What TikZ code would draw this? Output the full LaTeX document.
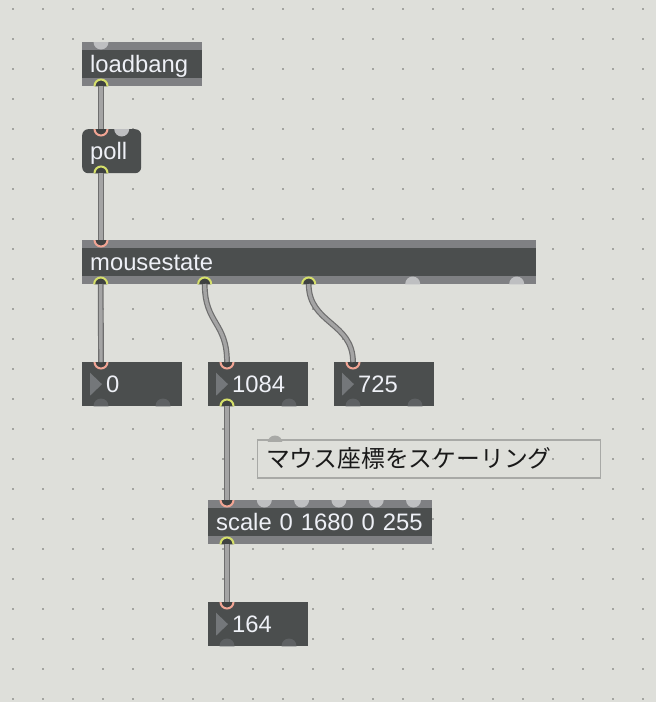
\documentclass[tikz,border=0pt]{standalone}
\usepackage{fontspec}
\newfontfamily\maxfont{Liberation Sans}
\newfontfamily\cjkfont{Noto Sans CJK JP}

\definecolor{patchbg}{HTML}{DEDFDA}
\definecolor{griddot}{HTML}{A3A4A0}
\definecolor{objbody}{HTML}{4B4E4E}
\definecolor{objband}{HTML}{7F8083}
\definecolor{objtext}{HTML}{EEF0F6}
\definecolor{portgray}{HTML}{BEBFC1}
\definecolor{portdark}{HTML}{5E6163}
\definecolor{portcore}{HTML}{3E4141}
\definecolor{inring}{HTML}{F2A594}
\definecolor{outring}{HTML}{D6E06A}
\definecolor{cableedge}{HTML}{6E6E6E}
\definecolor{cablecore}{HTML}{A4A4A4}
\definecolor{trigray}{HTML}{74777A}
\definecolor{cmtborder}{HTML}{A8A9A6}

\tikzset{
  obj/.style={rectangle, fill=objbody, text=objtext, anchor=north west,
    font=\maxfont\fontsize{23.8pt}{28pt}\selectfont,
    inner xsep=8pt, inner ysep=0pt, minimum height=44pt,
    text width=#1, align=left, text height=22.4pt, text depth=5pt},
  numbox/.style={obj=84pt, execute at begin node=\hspace*{16pt}},
  band/.style={fill=objband},
  port/.style={circle, inner sep=0pt, minimum size=15pt, fill=portgray},
  nport/.style={port, fill=portdark},
  inport/.style={circle, inner sep=0pt, minimum size=13pt, fill=portcore,
    draw=inring, line width=2pt},
  outport/.style={inport, draw=outring},
  cable/.style={draw=cableedge, line width=1.2pt, double=cablecore,
    double distance=3.4pt},
  cmt/.style={rectangle, draw=cmtborder, line width=1.6pt, anchor=north west,
    font=\cjkfont\fontsize{23.8pt}{28pt}\selectfont, text=black!90,
    inner xsep=8.5pt, inner ysep=0pt, minimum height=38pt,
    text width=326pt, align=left, text height=22.4pt, text depth=5pt}
}

\begin{document}
\begin{tikzpicture}[x=1pt, y=-1pt]

  % 背景与网格点
  \useasboundingbox (0,0) rectangle (656,702);
  \fill[patchbg] (0,0) rectangle (656,702);
  \foreach \i in {0,...,21}
    \foreach \j in {0,...,23}
      \fill[griddot] (11.7+30*\i, 7.7+30*\j) rectangle ++(2,2);

  % 对象
  \node[obj=104pt] (lb) at (82,42) {loadbang};
  \node[obj=43pt, rounded corners=6pt] (po) at (82,129) {poll};
  \node[obj=438pt] (ms) at (82,240) {mousestate};
  \node[numbox] (n0) at (82,362) {0};
  \node[numbox] (n1) at (208,362) {1084};
  \node[numbox] (n2) at (334,362) {725};
  \node[obj=208pt] (sc) at (208,500) {scale 0 1680 0 255};
  \node[numbox] (n3) at (208,602) {164};

  % 数字框左侧的三角形
  \foreach \n in {n0,n1,n2,n3}
    \fill[trigray] (\n.west) ++(8,-11.5) -- ++(12,11.5) -- ++(-12,11.5) -- cycle;

  % 上下边条与端口(裁剪到对象内部)
  \begin{scope}
    \clip (lb.north west) rectangle (lb.south east)
          (po.north west) rectangle (po.south east)
          (ms.north west) rectangle (ms.south east)
          (n0.north west) rectangle (n0.south east)
          (n1.north west) rectangle (n1.south east)
          (n2.north west) rectangle (n2.south east)
          (sc.north west) rectangle (sc.south east)
          (n3.north west) rectangle (n3.south east);

    \fill[band] (lb.north west) rectangle ++(120,8);
    \fill[band] (lb.south west) rectangle ++(120,-8);
    \fill[band] (ms.north west) rectangle ++(454,8);
    \fill[band] (ms.south west) rectangle ++(454,-8);
    \fill[band] (sc.north west) rectangle ++(224,8);
    \fill[band] (sc.south west) rectangle ++(224,-8);

    \node[port] (lb-in) at (101,42) {};
    \node[outport] (lb-out) at (101,86) {};

    \node[inport] (po-in1) at (101,129) {};
    \node[port] (po-in2) at (121.7,129) {};
    \node[outport] (po-out) at (101,173) {};

    \node[inport] (ms-in) at (101,240) {};
    \node[outport] (ms-out1) at (100.7,284) {};
    \node[outport] (ms-out2) at (204.7,284) {};
    \node[outport] (ms-out3) at (308.7,284) {};
    \node[port] (ms-out4) at (412.7,284) {};
    \node[port] (ms-out5) at (516.7,284) {};

    \node[inport] (n0-in) at (101,362) {};
    \node[nport] (n0-out1) at (101,406) {};
    \node[nport] (n0-out2) at (163,406) {};
    \node[inport] (n1-in) at (227,362) {};
    \node[outport] (n1-out1) at (227,406) {};
    \node[nport] (n1-out2) at (289,406) {};
    \node[inport] (n2-in) at (353,362) {};
    \node[nport] (n2-out1) at (353,406) {};
    \node[nport] (n2-out2) at (415,406) {};

    \node[inport] (sc-in0) at (227,500) {};
    \foreach \k in {1,...,5}
      \node[port] (sc-in\k) at (227+37.3*\k,500) {};
    \node[outport] (sc-out) at (227,544) {};

    \node[inport] (n3-in) at (227,602) {};
    \node[nport] (n3-out1) at (227,646) {};
    \node[nport] (n3-out2) at (289,646) {};
  \end{scope}

  % 连线
  \draw[cable] (lb-out.center) -- (po-in1.center);
  \draw[cable] (po-out.center) -- (ms-in.center);
  \draw[cable] (ms-out1.center) -- (n0-in.center);
  \draw[cable] (ms-out2.center) .. controls +(0,40) and +(0,-40) .. (n1-in.center);
  \draw[cable] (ms-out3.center) .. controls +(0,40) and +(0,-40) .. (n2-in.center);
  \draw[cable] (n1-out1.center) -- (sc-in0.center);
  \draw[cable] (sc-out.center) -- (n3-in.center);

  % 注释
  \node[cmt] (cm) at (256.7,439) {マウス座標をスケーリング};
  \begin{scope}
    \clip (260,430) rectangle (290,441.5);
    \node[port, fill=cmtborder] (cm-in) at (275,443) {};
  \end{scope}

\end{tikzpicture}
\end{document}
